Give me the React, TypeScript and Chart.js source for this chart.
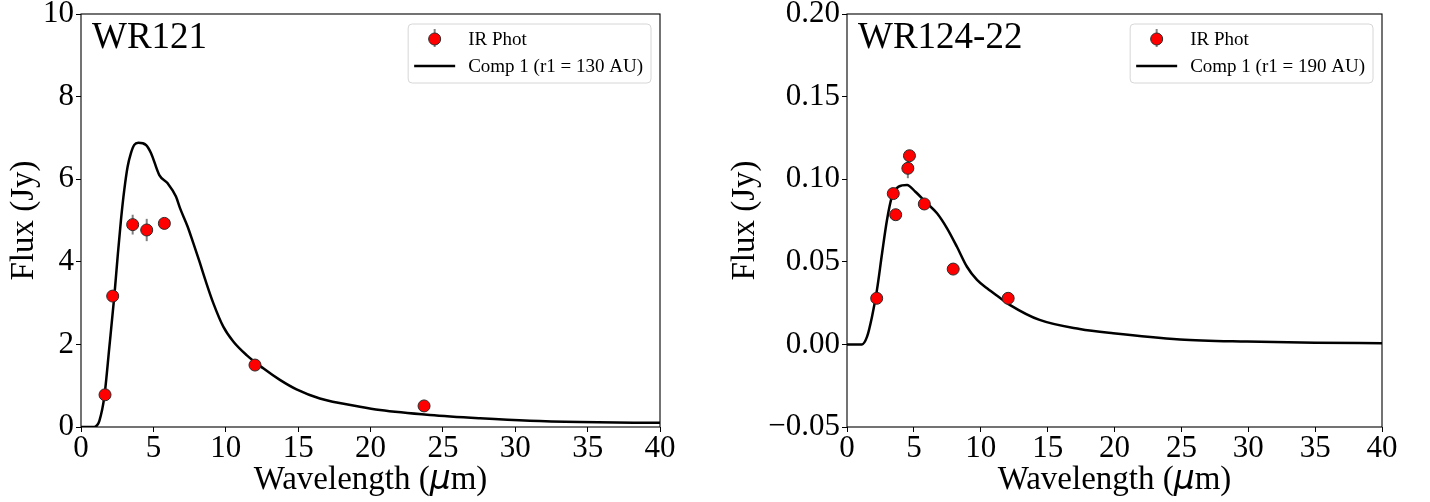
import React, { useEffect, useRef } from 'react';
import { Chart, registerables } from 'chart.js';

Chart.register(...registerables);

const FONT = '"Liberation Serif", "Times New Roman", serif';

// ---------- WR121 ----------
const WR121_PHOT_WL = [1.66, 2.19, 3.57, 4.54, 5.76, 12.02, 23.7];
const WR121_PHOT_FLUX = [0.78, 3.17, 4.9, 4.77, 4.93, 1.5, 0.51];
const WR121_PHOT_ERR = [0.04, 0.08, 0.24, 0.27, 0.06, 0.05, 0.03];
const WR121_MODEL_WL = [0, 0.9, 1.1, 1.27, 1.61, 1.96, 2.3, 2.53, 2.76, 2.99, 3.22, 3.45, 3.68, 3.96, 4.49, 4.84, 5.41, 5.99, 6.56, 6.84, 7.37, 7.76, 8.17, 8.6, 9.14, 9.83, 10.52, 11.44, 12.59, 13.74, 14.89, 16.5, 19.27, 20.66, 24.1, 27.56, 31.0, 34.5, 40];
const WR121_MODEL_FLUX = [0, 0, 0.04, 0.15, 0.73, 1.94, 3.16, 4.12, 5.01, 5.74, 6.3, 6.63, 6.83, 6.88, 6.83, 6.63, 6.1, 5.9, 5.58, 5.3, 4.85, 4.45, 4.02, 3.55, 3.0, 2.43, 2.07, 1.74, 1.42, 1.14, 0.91, 0.69, 0.49, 0.41, 0.29, 0.21, 0.15, 0.12, 0.1];

// ---------- WR124-22 ----------
const WR124_PHOT_WL = [2.22, 3.46, 3.64, 4.55, 4.67, 5.78, 7.94, 12.05];
const WR124_PHOT_FLUX = [0.0279, 0.0913, 0.0785, 0.1066, 0.1142, 0.085, 0.0456, 0.0279];
const WR124_PHOT_ERR = [0.001, 0.002, 0.002, 0.006, 0.002, 0.003, 0.001, 0.001];
const WR124_MODEL_WL = [0, 1.12, 1.5, 1.87, 2.24, 2.62, 2.99, 3.36, 3.86, 4.49, 5.11, 5.98, 6.73, 7.48, 8.22, 8.97, 9.72, 10.47, 11.3, 12.2, 14.4, 17.4, 19.9, 24.9, 29.9, 35, 40];
const WR124_MODEL_FLUX = [0, 0, 0.0047, 0.0168, 0.033, 0.055, 0.0753, 0.0894, 0.0955, 0.0965, 0.0924, 0.0854, 0.0794, 0.0703, 0.0591, 0.047, 0.039, 0.034, 0.029, 0.0238, 0.0148, 0.0093, 0.0067, 0.003, 0.0017, 0.001, 0.0007];

const X_TICK_STEP = 5;
const X_MIN = 0;
const X_MAX = 40;

const PHOT_LABEL = 'IR Phot';
const WR121_LABEL = 'Comp 1 (r1 = 130 AU)';
const WR124_LABEL = 'Comp 1 (r1 = 190 AU)';
const X_TITLE_PARTS = ['Wavelength (', 'μ', 'm)'];
const Y_TITLE = 'Flux (Jy)';

type PanelProps = {
  left: number;
  name: string;
  modelLabel: string;
  photWl: number[];
  photFlux: number[];
  photErr: number[];
  modelWl: number[];
  modelFlux: number[];
  yMin: number;
  yMax: number;
  yStep: number;
  yAxisWidth: number;
  padRight: number;
  yTitlePad: number;
  fmt: (v: number) => string;
};

function Panel(p: PanelProps) {
  const ref = useRef<HTMLCanvasElement | null>(null);
  useEffect(() => {
    const canvas = ref.current;
    if (!canvas) return;

    const errPlugin = {
      id: 'errbars',
      beforeDatasetsDraw(chart: any) {
        const { ctx, scales } = chart;
        ctx.save();
        ctx.strokeStyle = '#808080';
        ctx.lineWidth = 2;
        for (let i = 0; i < p.photWl.length; i++) {
          const x = scales.x.getPixelForValue(p.photWl[i]);
          const y1 = scales.y.getPixelForValue(p.photFlux[i] - p.photErr[i]);
          const y2 = scales.y.getPixelForValue(p.photFlux[i] + p.photErr[i]);
          ctx.beginPath();
          ctx.moveTo(x, y1);
          ctx.lineTo(x, y2);
          ctx.stroke();
        }
        ctx.restore();
      },
    };

    const decorPlugin = {
      id: 'decor',
      afterDraw(chart: any) {
        const { ctx, chartArea: a } = chart;
        ctx.save();
        // frame
        ctx.strokeStyle = '#000';
        ctx.lineWidth = 1.1;
        ctx.strokeRect(a.left, a.top, a.right - a.left, a.bottom - a.top);
        // x axis title with italic mu
        ctx.fillStyle = '#000';
        ctx.textBaseline = 'alphabetic';
        ctx.textAlign = 'left';
        const fUp = `33px ${FONT}`;
        const fMu = `italic 33px "DejaVu Sans", sans-serif`;
        ctx.font = fUp;
        const w0 = ctx.measureText(X_TITLE_PARTS[0]).width;
        const w2 = ctx.measureText(X_TITLE_PARTS[2]).width;
        ctx.font = fMu;
        const w1 = ctx.measureText(X_TITLE_PARTS[1]).width;
        const total = w0 + w1 + w2;
        let tx = (a.left + a.right) / 2 - total / 2;
        const ty = 489;
        ctx.font = fUp;
        ctx.fillText(X_TITLE_PARTS[0], tx, ty);
        tx += w0;
        ctx.font = fMu;
        ctx.fillText(X_TITLE_PARTS[1], tx, ty);
        tx += w1;
        ctx.font = fUp;
        ctx.fillText(X_TITLE_PARTS[2], tx, ty);
        // panel name
        ctx.font = `37px ${FONT}`;
        ctx.fillText(p.name, a.left + 11, a.top + 34);
        // legend
        ctx.font = `19px ${FONT}`;
        const tw = Math.max(ctx.measureText(PHOT_LABEL).width, ctx.measureText(p.modelLabel).width);
        const bw = 6 + 41 + 13 + tw + 8;
        const bh = 59;
        const bx = a.right - 9 - bw;
        const by = a.top + 10;
        ctx.beginPath();
        const r = 4;
        ctx.moveTo(bx + r, by);
        ctx.lineTo(bx + bw - r, by);
        ctx.arcTo(bx + bw, by, bx + bw, by + r, r);
        ctx.lineTo(bx + bw, by + bh - r);
        ctx.arcTo(bx + bw, by + bh, bx + bw - r, by + bh, r);
        ctx.lineTo(bx + r, by + bh);
        ctx.arcTo(bx, by + bh, bx, by + bh - r, r);
        ctx.lineTo(bx, by + r);
        ctx.arcTo(bx, by, bx + r, by, r);
        ctx.closePath();
        ctx.fillStyle = 'rgba(255,255,255,0.8)';
        ctx.fill();
        ctx.strokeStyle = '#d6d6d6';
        ctx.lineWidth = 1;
        ctx.stroke();
        const hx1 = bx + 6;
        const hx2 = bx + 47;
        const hc = (hx1 + hx2) / 2;
        const y1 = by + 15;
        const y2 = by + 42;
        // error bar + marker
        ctx.strokeStyle = '#808080';
        ctx.lineWidth = 2;
        ctx.beginPath();
        ctx.moveTo(hc, y1 - 10);
        ctx.lineTo(hc, y1 + 8);
        ctx.stroke();
        ctx.beginPath();
        ctx.arc(hc, y1, 6, 0, Math.PI * 2);
        ctx.fillStyle = '#ff0000';
        ctx.fill();
        ctx.strokeStyle = '#2b2b2b';
        ctx.lineWidth = 1;
        ctx.stroke();
        // line handle
        ctx.strokeStyle = '#000';
        ctx.lineWidth = 2.5;
        ctx.beginPath();
        ctx.moveTo(hx1, y2);
        ctx.lineTo(hx2, y2);
        ctx.stroke();
        // texts
        ctx.fillStyle = '#000';
        ctx.fillText(PHOT_LABEL, bx + 60, y1 + 6);
        ctx.fillText(p.modelLabel, bx + 60, y2 + 6);
        ctx.restore();
      },
    };

    const zeroPad = (s: any) => {
      s.paddingLeft = 0;
      s.paddingRight = 0;
      s.paddingTop = 0;
      s.paddingBottom = 0;
    };

    const chart = new Chart(canvas, {
      type: 'scatter',
      data: {
        datasets: [
          {
            label: PHOT_LABEL,
            data: p.photWl.map((x, i) => ({ x, y: p.photFlux[i] })),
            backgroundColor: '#ff0000',
            borderColor: '#2b2b2b',
            borderWidth: 1,
            pointRadius: 6,
            pointHoverRadius: 6,
            showLine: false,
          },
          {
            label: p.modelLabel,
            data: p.modelWl.map((x, i) => ({ x, y: p.modelFlux[i] })),
            borderColor: '#000',
            backgroundColor: '#000',
            borderWidth: 2.5,
            pointRadius: 0,
            showLine: true,
            cubicInterpolationMode: 'monotone',
          } as any,
        ],
      },
      options: {
        animation: false,
        responsive: false,
        devicePixelRatio: 1,
        layout: { padding: { left: 0, top: 14, right: p.padRight, bottom: 0 } },
        plugins: { legend: { display: false }, tooltip: { enabled: false } },
        events: [],
        scales: {
          x: {
            type: 'linear',
            min: X_MIN,
            max: X_MAX,
            border: { display: false },
            grid: { display: true, drawOnChartArea: false, drawTicks: true, tickLength: 5, tickColor: '#000', tickWidth: 1 },
            ticks: { stepSize: X_TICK_STEP, color: '#000', font: { family: FONT, size: 31 }, padding: -2, maxRotation: 0 },
            title: { display: false },
            afterFit: (s: any) => {
              s.height = 75;
              zeroPad(s);
            },
          },
          y: {
            type: 'linear',
            min: p.yMin,
            max: p.yMax,
            border: { display: false },
            grid: { display: true, drawOnChartArea: false, drawTicks: true, tickLength: 5, tickColor: '#000', tickWidth: 1 },
            ticks: {
              stepSize: p.yStep,
              color: '#000',
              font: { family: FONT, size: 31 },
              padding: 2,
              callback: (v: any) => p.fmt(Number(v)),
            },
            title: {
              display: true,
              text: Y_TITLE,
              color: '#000',
              font: { family: FONT, size: 33, lineHeight: 1 },
              padding: { top: p.yTitlePad, bottom: 0 },
            },
            afterFit: (s: any) => {
              s.width = p.yAxisWidth;
              zeroPad(s);
            },
          },
        },
      } as any,
      plugins: [errPlugin, decorPlugin],
    });
    return () => chart.destroy();
  }, []);

  return (
    <canvas
      ref={ref}
      width={715}
      height={502}
      style={{ position: 'absolute', left: p.left, top: 0, width: 715, height: 502 }}
    />
  );
}

const intFmt = (v: number) => String(Math.round(v));
const decFmt = (v: number) => {
  if (Math.abs(v) < 1e-9) return '0.00';
  const s = Math.abs(v).toFixed(2);
  return v < 0 ? '\u2212' + s : s;
};

export default function App() {
  useEffect(() => {
    document.body.style.margin = '0';
  }, []);
  return (
    <div style={{ position: 'absolute', left: 0, top: 0, width: 1430, height: 502, background: '#fff' }}>
      <Panel
        left={0}
        name="WR121"
        modelLabel={WR121_LABEL}
        photWl={WR121_PHOT_WL}
        photFlux={WR121_PHOT_FLUX}
        photErr={WR121_PHOT_ERR}
        modelWl={WR121_MODEL_WL}
        modelFlux={WR121_MODEL_FLUX}
        yMin={0}
        yMax={10}
        yStep={2}
        yAxisWidth={81}
        padRight={55}
        yTitlePad={8}
        fmt={intFmt}
      />
      <Panel
        left={715}
        name="WR124-22"
        modelLabel={WR124_LABEL}
        photWl={WR124_PHOT_WL}
        photFlux={WR124_PHOT_FLUX}
        photErr={WR124_PHOT_ERR}
        modelWl={WR124_MODEL_WL}
        modelFlux={WR124_MODEL_FLUX}
        yMin={-0.05}
        yMax={0.2}
        yStep={0.05}
        yAxisWidth={132}
        padRight={48}
        yTitlePad={14}
        fmt={decFmt}
      />
    </div>
  );
}
